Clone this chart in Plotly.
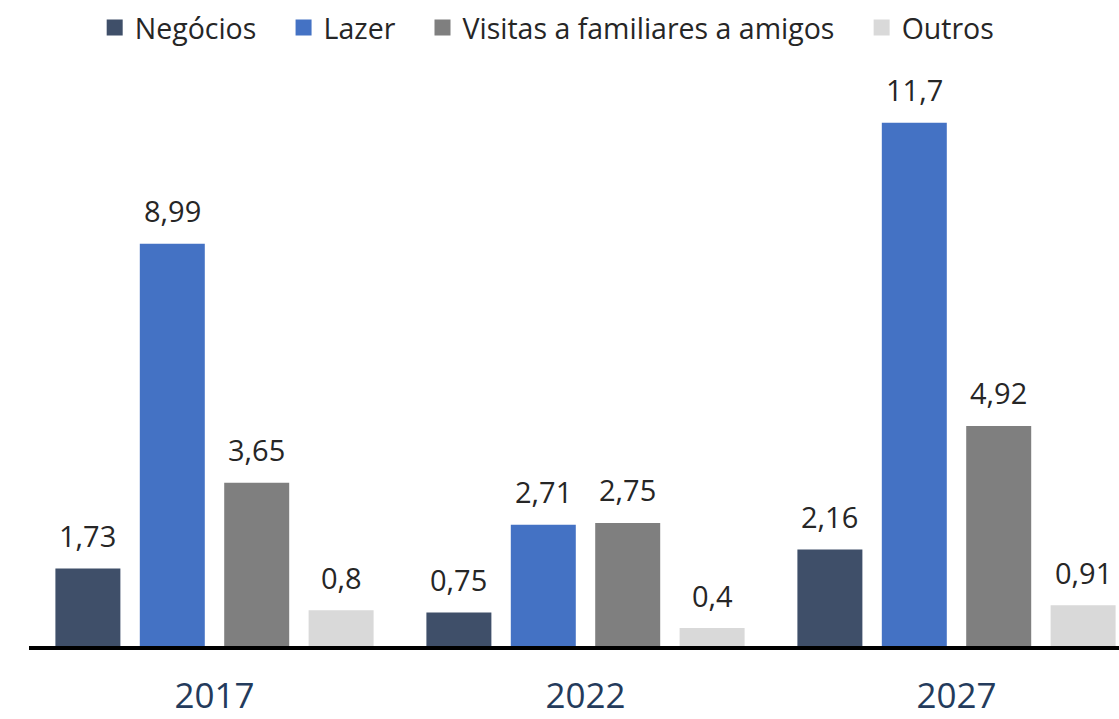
import plotly.graph_objects as go

years = ["2017", "2022", "2027"]
series_names = ["Negócios", "Lazer", "Visitas a familiares a amigos", "Outros"]
negocios = [1.73, 0.75, 2.16]
lazer = [8.99, 2.71, 11.7]
visitas = [3.65, 2.75, 4.92]
outros = [0.8, 0.4, 0.91]
colors = ["#3F4F69", "#4472C4", "#7F7F7F", "#D9D9D9"]

series_values = [negocios, lazer, visitas, outros]
FONT = "Open Sans"
TXT = "#262626"
BARGAP = 0.09
BARGROUPGAP = 0.23
PAD = "\u00a0" * 3

xpos = list(range(len(years)))
fig = go.Figure()
for i, (name, vals, col) in enumerate(zip(series_names, series_values, colors)):
    fig.add_trace(go.Bar(x=xpos, y=vals, name=name, marker=dict(color=col, line=dict(width=0)),
                         showlegend=False, hoverinfo="skip"))
    # legend entry with a bigger square
    legend_name = name + (PAD if i < len(series_names) - 1 else "")
    fig.add_trace(go.Scatter(x=[None], y=[None], mode="markers", name=legend_name,
                             marker=dict(symbol="square", size=16, color=col), showlegend=True))

slot = (1 - BARGAP) / len(series_names)
n = len(series_names)
for k, vals in enumerate(series_values):
    for g, v in enumerate(vals):
        label = ("%g" % v).replace(".", ",")
        fig.add_annotation(x=g + (k - (n - 1) / 2) * slot, y=v, text=label, showarrow=False,
                           yanchor="middle", yshift=33, font=dict(family=FONT, size=29, color=TXT))

fig.update_layout(
    width=1119, height=719,
    margin=dict(l=29, r=0, t=60, b=73),
    paper_bgcolor="white", plot_bgcolor="white",
    barmode="group", bargap=BARGAP, bargroupgap=BARGROUPGAP,
    font=dict(family=FONT, color=TXT),
    legend=dict(orientation="h", xref="container", yref="container", x=0.489, y=0.961,
                xanchor="center", yanchor="middle", font=dict(family=FONT, size=28.5, color=TXT),
                itemclick=False, tracegroupgap=0),
    xaxis=dict(range=[-0.5, 2.438], tickvals=xpos, ticktext=years, showgrid=False, zeroline=False,
               showline=True, linecolor="black", linewidth=4, ticks="", automargin=False,
               tickfont=dict(family=FONT, size=35, color="#243B5C"), ticklabelstandoff=16),
    yaxis=dict(range=[0, 13.1], visible=False, showgrid=False, zeroline=False, automargin=False),
)
fig.write_html("out.html", config={"displayModeBar": False},
               post_script="document.body.style.margin='0px';document.body.style.overflow='hidden';")
